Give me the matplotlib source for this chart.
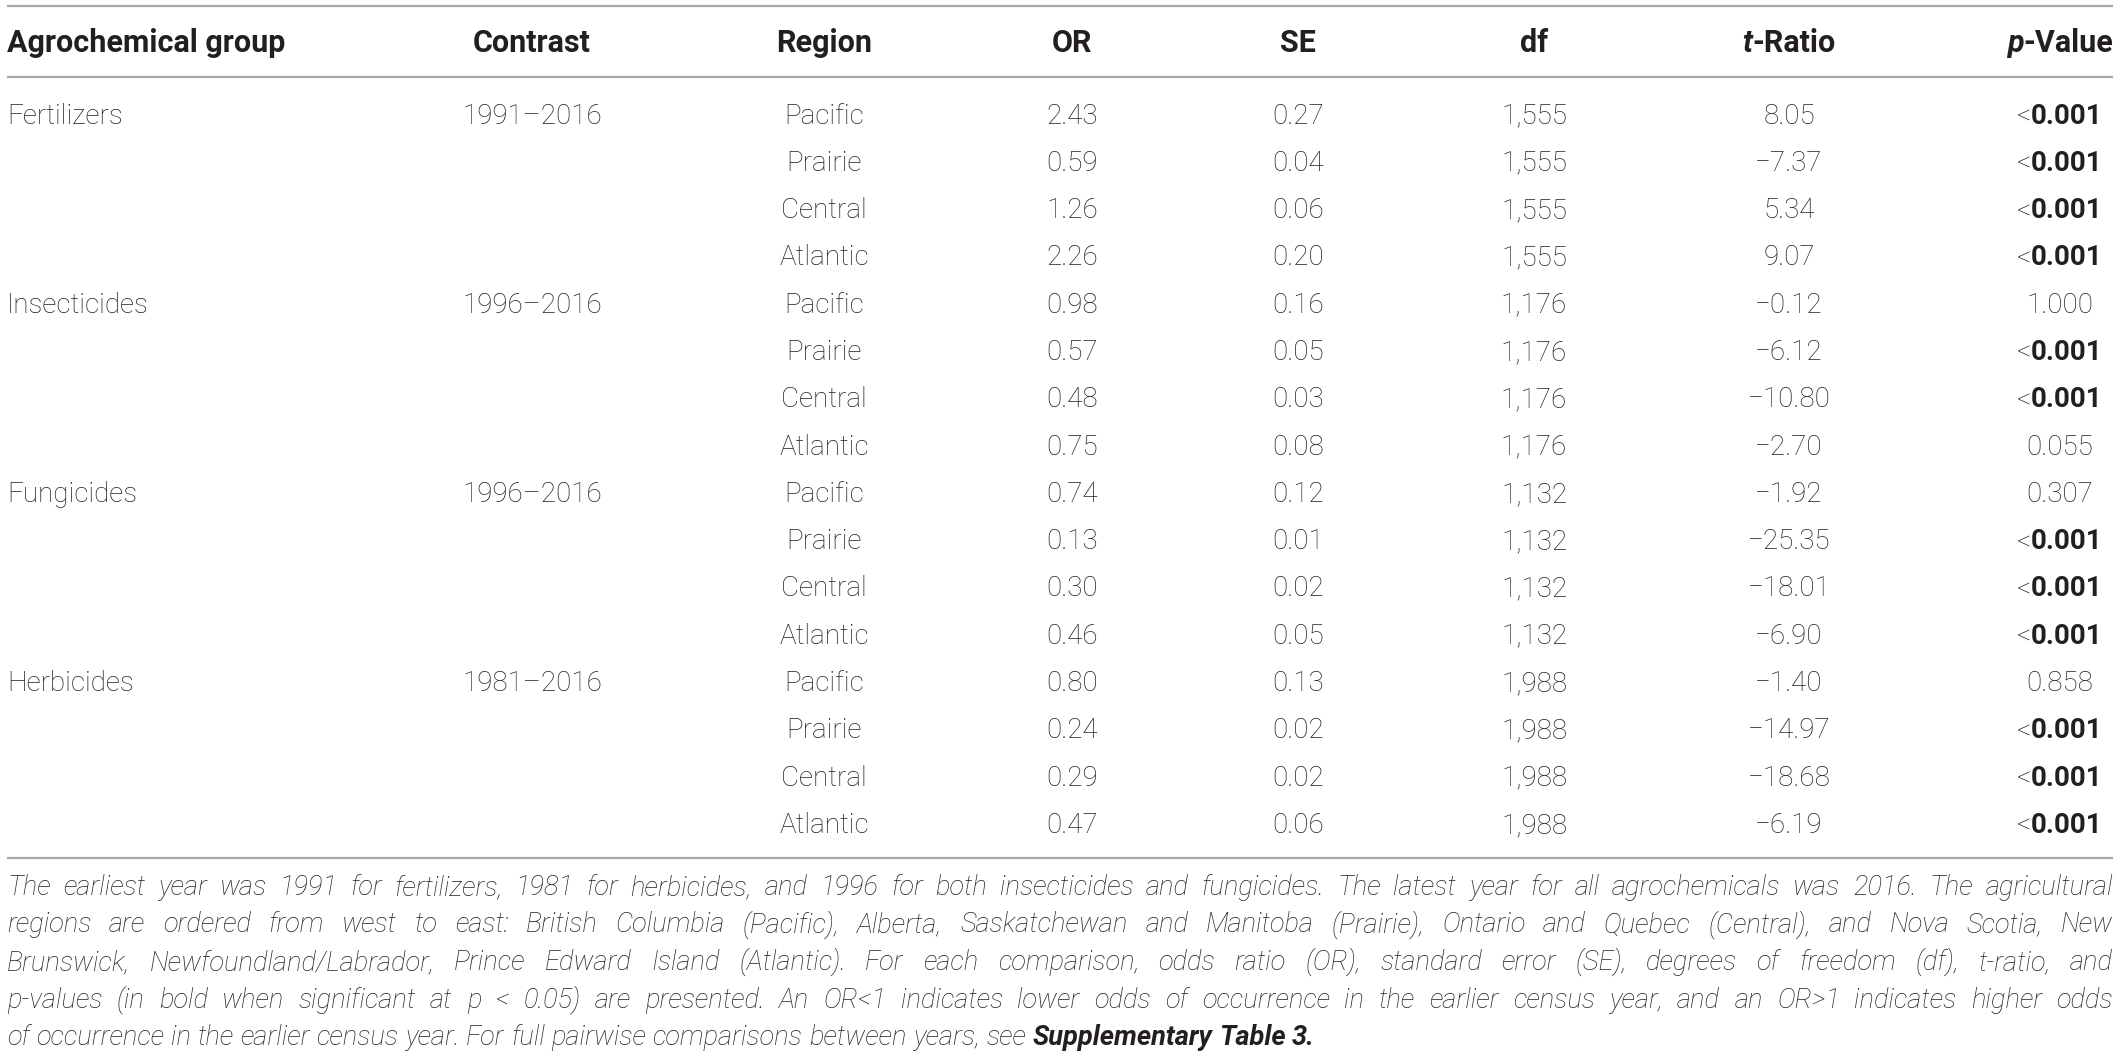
import matplotlib
matplotlib.use("Agg")
import matplotlib.pyplot as plt

# ---- table data ----
groups = ["Fertilizers", "Insecticides", "Fungicides", "Herbicides"]
contrasts = ["1991–2016", "1996–2016", "1996–2016", "1981–2016"]
regions = ["Pacific", "Prairie", "Central", "Atlantic"]

odds_ratio = [2.43, 0.59, 1.26, 2.26,
              0.98, 0.57, 0.48, 0.75,
              0.74, 0.13, 0.30, 0.46,
              0.80, 0.24, 0.29, 0.47]
std_err = [0.27, 0.04, 0.06, 0.20,
           0.16, 0.05, 0.03, 0.08,
           0.12, 0.01, 0.02, 0.05,
           0.13, 0.02, 0.02, 0.06]
dof = [1555] * 4 + [1176] * 4 + [1132] * 4 + [1988] * 4
t_ratio = [8.05, -7.37, 5.34, 9.07,
           -0.12, -6.12, -10.80, -2.70,
           -1.92, -25.35, -18.01, -6.90,
           -1.40, -14.97, -18.68, -6.19]
p_value = ["<0.001", "<0.001", "<0.001", "<0.001",
           "1.000", "<0.001", "<0.001", "0.055",
           "0.307", "<0.001", "<0.001", "<0.001",
           "0.858", "<0.001", "<0.001", "<0.001"]

footnote = [
    [("The earliest year was 1991 for fertilizers, 1981 for herbicides, and 1996 for both "
      "insecticides and fungicides. The latest year for all agrochemicals was 2016. The agricultural", "i")],
    [("regions are ordered from west to east: British Columbia (Pacific), Alberta, Saskatchewan "
      "and Manitoba (Prairie), Ontario and Quebec (Central), and Nova Scotia, New", "i")],
    [("Brunswick, Newfoundland/Labrador, Prince Edward Island (Atlantic). For each comparison, "
      "odds ratio (OR), standard error (SE), degrees of freedom (df), t-ratio, and", "i")],
    [("p-values (in bold when significant at p < 0.05) are presented. An OR<1 indicates lower "
      "odds of occurrence in the earlier census year, and an OR>1 indicates higher odds", "i")],
    [("of occurrence in the earlier census year. For full pairwise comparisons between years, see", "i"),
     ("Supplementary Table 3.", "bi")],
]

W, H = 2119, 1056
FONT = "Roboto"
INK = "#231f20"
BODY = 20.0
HEAD = 22.0
NOTE = 19.6

fig = plt.figure(figsize=(W / 100, H / 100), dpi=100)
ax = fig.add_axes([0, 0, 1, 1])
ax.set_xlim(0, W)
ax.set_ylim(H, 0)
ax.axis("off")
renderer = fig.canvas.get_renderer()


def style_kw(style, size):
    kw = dict(family=FONT, color=INK, fontsize=size, va="baseline")
    kw["weight"] = "bold" if "b" in style else "light"
    kw["style"] = "italic" if "i" in style else "normal"
    return kw


def width(txt, style, size):
    t = ax.text(0, 0, txt, **style_kw(style, size))
    w = t.get_window_extent(renderer).width
    t.remove()
    return w


def parts(x, y, segs, size, ha="left"):
    ws = [width(s, st, size) for s, st in segs]
    total = sum(ws)
    if ha == "center":
        x = x - total / 2
    for (s, st), w in zip(segs, ws):
        ax.text(x, y, s, **style_kw(st, size))
        x += w


# columns
cx = {"contrast": 532, "region": 824, "or": 1072, "se": 1298,
      "df": 1534, "t": 1789, "p": 2060}
left = 7
right = 2113

# rules
for yy in (6, 77, 858):
    ax.plot([left, right], [yy, yy], color="#a8a8a8", lw=1.6, solid_capstyle="butt")

# header
hy = 52
ax.text(left, hy, "Agrochemical group", **style_kw("b", HEAD))
for key, lab in [("contrast", "Contrast"), ("region", "Region"), ("or", "OR"),
                 ("se", "SE"), ("df", "df")]:
    ax.text(cx[key], hy, lab, ha="center", **style_kw("b", HEAD))
parts(cx["t"], hy, [("t", "bi"), ("-Ratio", "b")], HEAD, ha="center")
parts(cx["p"], hy, [("p", "bi"), ("-Value", "b")], HEAD, ha="center")

# rows
y0, dy = 123.5, 47.3
for i in range(len(odds_ratio)):
    y = y0 + dy * i
    g = i // 4
    if i % 4 == 0:
        ax.text(left, y, groups[g], **style_kw("", BODY))
        ax.text(cx["contrast"], y, contrasts[g], ha="center", **style_kw("", BODY))
    ax.text(cx["region"], y, regions[i % 4], ha="center", **style_kw("", BODY))
    ax.text(cx["or"], y, f"{odds_ratio[i]:.2f}", ha="center", **style_kw("", BODY))
    ax.text(cx["se"], y, f"{std_err[i]:.2f}", ha="center", **style_kw("", BODY))
    ax.text(cx["df"], y, f"{dof[i]:,}", ha="center", **style_kw("", BODY))
    ax.text(cx["t"], y, f"{t_ratio[i]:.2f}".replace("-", "−"), ha="center",
            **style_kw("", BODY))
    pv = p_value[i]
    if pv.startswith("<"):
        parts(cx["p"], y, [("<", ""), (pv[1:], "b")], BODY, ha="center")
    else:
        ax.text(cx["p"], y, pv, ha="center", **style_kw("", BODY))

# footnote, justified except the last line
fy0, fdy = 895, 37.5
for li, segs in enumerate(footnote):
    y = fy0 + fdy * li
    words = []
    for s, st in segs:
        words += [(w, st) for w in s.split(" ")]
    ws = [width(w, st, NOTE) for w, st in words]
    if li < len(footnote) - 1:
        gap = (right - left - sum(ws)) / (len(words) - 1)
    else:
        gap = width("a a", "i", NOTE) - width("aa", "i", NOTE)
    x = left
    for (w, st), wd in zip(words, ws):
        ax.text(x, y, w, **style_kw(st, NOTE))
        x += wd + gap

fig.savefig("out.png", dpi=100)
